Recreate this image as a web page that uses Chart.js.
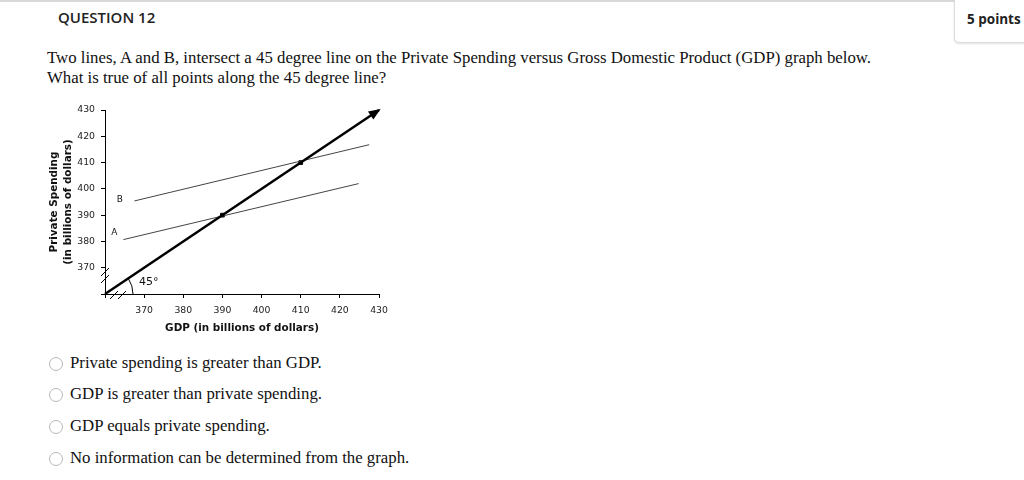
<!DOCTYPE html>
<html>
<head>
<meta charset="utf-8">
<script src="https://cdn.jsdelivr.net/npm/chart.js@4.4.1/dist/chart.umd.min.js"></script>
<style>
  body { margin: 0; background: #fff; width: 1024px; height: 480px; overflow: hidden; position: relative; }
  .topline { position: absolute; left: 0; top: 0; width: 1024px; height: 2px; background: #d9d9d9; }
  .qtitle { position: absolute; left: 58px; top: 7px; font: 600 15px "Open Sans", sans-serif; color: #222; }
  .points { position: absolute; left: 954px; top: -2px; width: 80px; height: 43px; border: 1px solid #dcdcdc;
            border-radius: 0 0 0 5px; box-shadow: 0 1px 2px rgba(0,0,0,0.12); background: #fff; }
  .points span { position: absolute; left: 12px; top: 11px; font: 700 13.5px "Open Sans", sans-serif; color: #222; }
  .question { position: absolute; left: 47px; top: 48px; font: 16.8px "Liberation Serif", "Times New Roman", serif;
              line-height: 19.5px; color: #111; white-space: nowrap; }
  .opt { position: absolute; left: 49px; font: 16.8px "Liberation Serif", "Times New Roman", serif; color: #111; }
  .opt i { position: absolute; left: 0; top: 3px; width: 12px; height: 12px; border: 1px solid #b8b8b8;
           border-radius: 50%; background: #fff; }
  .opt span { position: absolute; left: 21px; top: -1px; white-space: nowrap; }
  #wrap { position: absolute; left: 40px; top: 95px; width: 360px; height: 245px; }
</style>
</head>
<body>
<div class="topline"></div>
<div class="qtitle">QUESTION 12</div>
<div class="points"><span>5 points</span></div>
<div class="question">Two lines, A and B, intersect a 45 degree line on the Private Spending versus Gross Domestic Product (GDP) graph below.<br>What is true of all points along the 45 degree line?</div>
<div class="opt" style="top:354px"><i></i><span>Private spending is greater than GDP.</span></div>
<div class="opt" style="top:385px"><i></i><span>GDP is greater than private spending.</span></div>
<div class="opt" style="top:417px"><i></i><span>GDP equals private spending.</span></div>
<div class="opt" style="top:449px"><i></i><span>No information can be determined from the graph.</span></div>
<div id="wrap"><canvas id="myChart" width="360" height="245"></canvas></div>
<script>
// axis range (billions of dollars)
const axisMin = 360;
const axisMax = 430;
const tickStep = 10;

// 45 degree line: GDP = private spending
const line45X = [360, 430];
const line45Y = [360, 430];

// line A and line B (GDP, private spending)
const lineAX = [364.7, 424.8];
const lineAY = [380.7, 402.0];
const lineBX = [367.5, 427.5];
const lineBY = [395.4, 416.8];

// intersections with the 45 degree line
const crossX = [390, 410];
const crossY = [390, 410];

const toPts = (xs, ys) => xs.map((x, i) => ({x: x, y: ys[i]}));

// decorations: arrowhead, axis breaks, 45 degree arc, A/B labels
const extras = {
  id: "extras",
  afterDraw(chart) {
    const ctx = chart.ctx;
    const xs = chart.scales.x, ys = chart.scales.y;
    const ox = xs.getPixelForValue(axisMin), oy = ys.getPixelForValue(axisMin);
    const ex = xs.getPixelForValue(line45X[1]), ey = ys.getPixelForValue(line45Y[1]);
    const ang = Math.atan2(ey - oy, ex - ox);
    ctx.save();
    // arrowhead
    const tipX = ex + 2 * Math.cos(ang), tipY = ey + 2 * Math.sin(ang);
    ctx.fillStyle = "#000";
    ctx.beginPath();
    ctx.moveTo(tipX, tipY);
    ctx.lineTo(tipX - 13 * Math.cos(ang - 0.38), tipY - 13 * Math.sin(ang - 0.38));
    ctx.lineTo(tipX - 13 * Math.cos(ang + 0.38), tipY - 13 * Math.sin(ang + 0.38));
    ctx.closePath();
    ctx.fill();
    // axis break marks
    ctx.strokeStyle = "#000";
    ctx.lineWidth = 1;
    ctx.beginPath();
    [oy - 22, oy - 15].forEach(y => { ctx.moveTo(ox - 4, y + 4); ctx.lineTo(ox + 4, y - 4); });
    [ox + 9, ox + 17].forEach(x => { ctx.moveTo(x - 4, oy + 5); ctx.lineTo(x + 4, oy - 3); });
    ctx.stroke();
    // arc for the angle
    ctx.beginPath();
    ctx.arc(ox, oy, 28, ang, 0);
    ctx.stroke();
    ctx.fillStyle = "#111";
    ctx.font = "11px 'DejaVu Sans', sans-serif";
    ctx.textBaseline = "middle";
    ctx.textAlign = "left";
    ctx.fillText("45\u00b0", ox + 34, oy - 12);
    ctx.font = "9px 'DejaVu Sans', sans-serif";
    ctx.textAlign = "center";
    ctx.fillText("B", xs.getPixelForValue(363.8), ys.getPixelForValue(395.8));
    ctx.fillText("A", xs.getPixelForValue(362.4), ys.getPixelForValue(383.2));
    ctx.restore();
  }
};

const tickFont = {family: "'DejaVu Sans', sans-serif", size: 9.3};
const titleFont = {family: "'DejaVu Sans', sans-serif", size: 10.4, weight: "bold", lineHeight: 1.3};

new Chart("myChart", {
  type: "scatter",
  data: {
    datasets: [{
      data: toPts(line45X, line45Y),
      showLine: true,
      borderColor: "#000",
      borderWidth: 2.5,
      pointRadius: 0,
      clip: false
    }, {
      data: toPts(lineAX, lineAY),
      showLine: true,
      borderColor: "#444",
      borderWidth: 1,
      pointRadius: 0
    }, {
      data: toPts(lineBX, lineBY),
      showLine: true,
      borderColor: "#444",
      borderWidth: 1,
      pointRadius: 0
    }, {
      data: toPts(crossX, crossY),
      pointStyle: "rect",
      pointRadius: 2.6,
      backgroundColor: "#000",
      borderColor: "#000"
    }]
  },
  options: {
    responsive: false,
    animation: false,
    events: [],
    layout: {padding: {top: 15, right: 21, left: 0, bottom: 0}},
    plugins: {legend: {display: false}, tooltip: {enabled: false}},
    scales: {
      x: {
        type: "linear",
        min: axisMin,
        max: axisMax,
        afterFit: s => { s.height = 46; },
        ticks: {stepSize: tickStep, font: tickFont, color: "#222", padding: 7,
                callback: v => v === axisMin ? "" : v},
        grid: {drawOnChartArea: false, tickLength: 4, color: "#000"},
        border: {display: true, color: "#000", width: 1},
        title: {display: true, text: "GDP (in billions of dollars)", font: titleFont, color: "#111",
                padding: {top: 0, bottom: 5}}
      },
      y: {
        type: "linear",
        min: axisMin,
        max: axisMax,
        afterFit: s => { s.width = 65; },
        ticks: {stepSize: tickStep, font: tickFont, color: "#222", padding: 6,
                callback: v => v === axisMin ? "" : v},
        grid: {drawOnChartArea: false, tickLength: 4, color: "#000"},
        border: {display: true, color: "#000", width: 1},
        title: {display: true, text: ["Private Spending", "(in billions of dollars)"], font: titleFont,
                color: "#111", padding: {top: 8, bottom: 0}}
      }
    }
  },
  plugins: [extras]
});
</script>
</body>
</html>
